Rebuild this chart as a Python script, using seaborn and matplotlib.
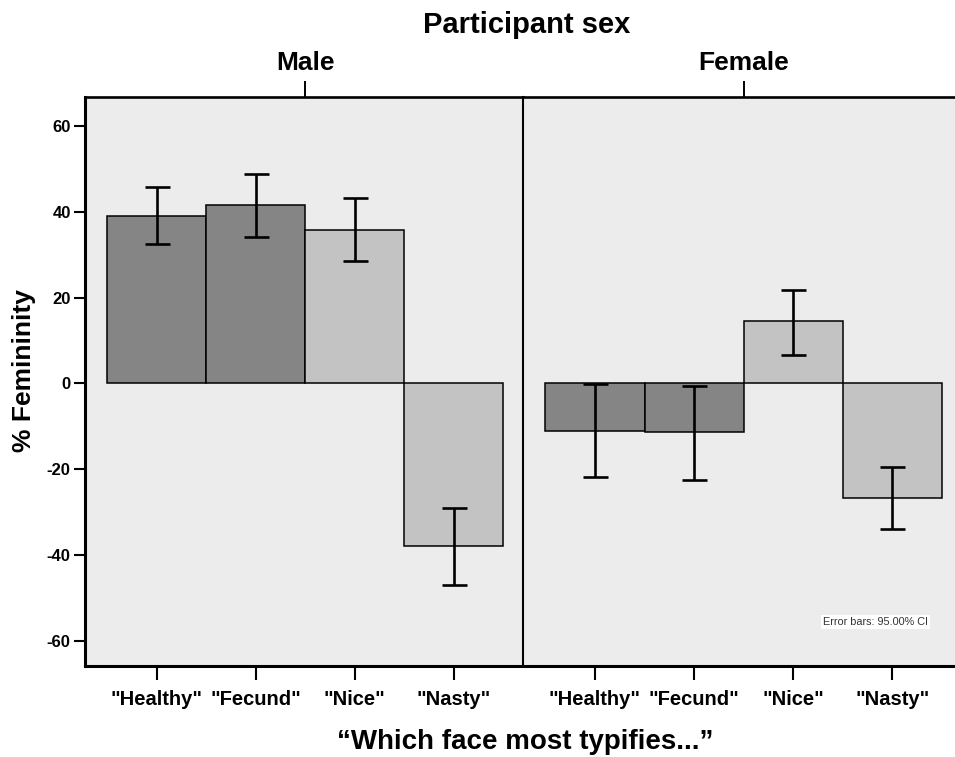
import numpy as np
import matplotlib
matplotlib.use("Agg")
import matplotlib.pyplot as plt
import seaborn as sns

# Data (% femininity, 95% CI)
categories = ['"Healthy"', '"Fecund"', '"Nice"', '"Nasty"']
panels = ["Male", "Female"]
male_means = [39.0, 41.6, 35.8, -37.8]
male_lo = [32.4, 34.2, 28.5, -46.9]
male_hi = [45.7, 48.8, 43.1, -29.0]
female_means = [-11.0, -11.4, 14.5, -26.6]
female_lo = [-21.7, -22.4, 6.6, -33.9]
female_hi = [-0.2, -0.7, 21.8, -19.4]
yticks = [-60, -40, -20, 0, 20, 40, 60]

bar_colors = ["#858585", "#858585", "#c3c3c3", "#c3c3c3"]
bg = "#ececec"

sns.set_theme(style="white")
plt.rcParams["font.family"] = ["Liberation Sans", "DejaVu Sans"]
plt.rcParams["font.weight"] = "bold"
for key in ["text.color", "axes.labelcolor", "xtick.color", "ytick.color", "axes.edgecolor"]:
    plt.rcParams[key] = "black"

fig = plt.figure(figsize=(9.55, 7.57), dpi=100)
ax_m = fig.add_axes([0.0885, 0.1202, 0.4592, 0.7523])
ax_f = fig.add_axes([0.5476, 0.1202, 0.4592, 0.7523], sharey=ax_m)

series = [(ax_m, male_means, male_lo, male_hi), (ax_f, female_means, female_lo, female_hi)]
for (ax, means, lo, hi), name in zip(series, panels):
    ax.set_facecolor(bg)
    sns.barplot(x=categories, y=means, hue=categories, palette=bar_colors,
                width=1.0, edgecolor="black", linewidth=1.1, errorbar=None,
                legend=False, ax=ax)
    means = np.array(means)
    yerr = [means - np.array(lo), np.array(hi) - means]
    ax.errorbar(np.arange(len(categories)), means, yerr=yerr, fmt="none",
                ecolor="black", elinewidth=1.9, capsize=9, capthick=1.9, zorder=5)
    ax.set_xlim(-0.727, 3.70)
    ax.set_ylim(-65.8, 66.8)
    ax.set_xlabel("")
    ax.set_ylabel("")
    ax.tick_params(axis="x", direction="out", length=10, width=1.5, pad=7,
                   labelsize=14.5, bottom=True, colors="black")
    for lbl in ax.get_xticklabels():
        lbl.set_fontweight("bold")
    ax.spines["right"].set_visible(False)
    ax.spines["top"].set_linewidth(1.9)
    ax.spines["bottom"].set_linewidth(2.2)
    for s in ax.spines.values():
        s.set_color("black")

    top = ax.secondary_xaxis("top")
    top.set_xticks([1.5])
    top.set_xticklabels([name], fontsize=19, fontweight="bold", color="black")
    top.tick_params(direction="out", length=11.5, width=1.4, pad=4, colors="black")
    top.spines["top"].set_visible(False)

ax_m.set_yticks(yticks)
ax_m.set_yticklabels([str(t) for t in yticks], fontsize=12, fontweight="bold")
ax_m.tick_params(axis="y", direction="out", length=8, width=1.5, pad=2, left=True,
                 colors="black")
ax_m.spines["left"].set_linewidth(2.2)
ax_f.spines["left"].set_linewidth(1.5)
ax_f.tick_params(axis="y", left=False, labelleft=False)

ax_f.text(0.924, 0.077, "Error bars: 95.00% CI", transform=ax_f.transAxes,
          ha="right", va="center", fontsize=7.8, fontweight="normal", color="#333333",
          bbox=dict(facecolor="white", edgecolor="none", pad=1.5))

fig.text(0.552, 0.967, "Participant sex", ha="center", va="center",
         fontsize=21, fontweight="bold")
fig.text(0.55, 0.02, "\u201cWhich face most typifies...\u201d", ha="center",
         va="center", fontsize=20, fontweight="bold")
fig.text(0.025, 0.511, "% Femininity", rotation=90, ha="center", va="center",
         fontsize=19, fontweight="bold")

fig.savefig("out.png", dpi=100, facecolor="white")
